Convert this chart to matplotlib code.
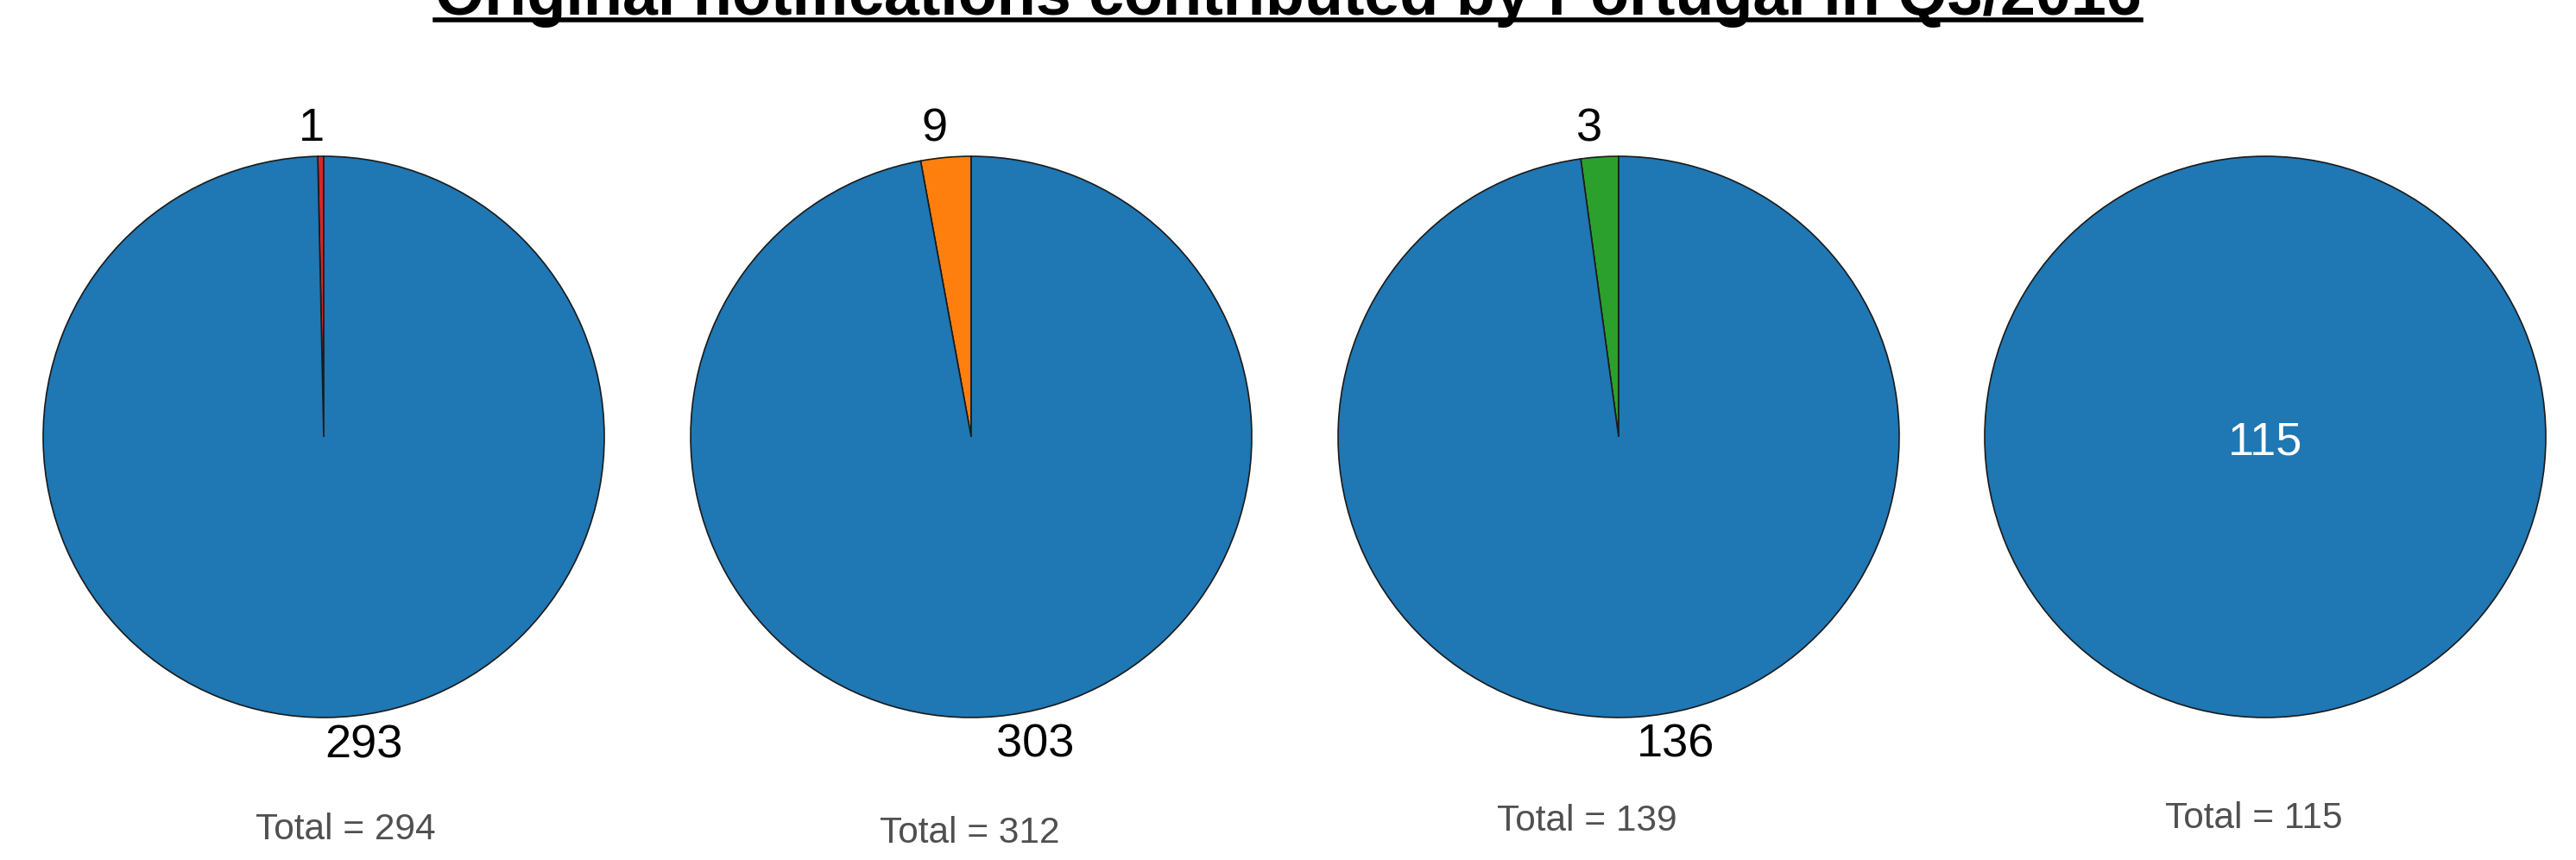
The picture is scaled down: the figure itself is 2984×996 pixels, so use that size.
import matplotlib
matplotlib.use("Agg")
import matplotlib.pyplot as plt
from matplotlib.lines import Line2D
import numpy as np

plt.rcParams['font.family'] = ['Liberation Sans', 'DejaVu Sans']

title = "Original notifications contributed by Portugal in Q3/2016"
small_values = [1, 9, 3, 0]
large_values = [293, 303, 136, 115]
small_colors = ['#d62728', '#ff7f0e', '#2ca02c', '#9467bd']
large_color = '#1f77b4'

W, H = 2984, 996
DPI = 100
fig = plt.figure(figsize=(W / DPI, H / DPI), dpi=DPI)
fig.patch.set_facecolor('white')

centers_x = [375, 1125, 1875, 2624]
center_y = 506
R = 325
total_pos_x = [400, 1123, 1838, 2611]
total_pos_y = [961, 965, 951, 948]

for i in range(4):
    cx = centers_x[i]
    ax = fig.add_axes([(cx - R) / W, (H - center_y - R) / H, 2 * R / W, 2 * R / H])
    s, l = small_values[i], large_values[i]
    if s > 0:
        vals = [s, l]
        cols = [small_colors[i], large_color]
    else:
        vals = [l]
        cols = [large_color]
    wedges, _ = ax.pie(vals, colors=cols, startangle=90, counterclock=True,
                       radius=1.0,
                       wedgeprops=dict(edgecolor='#1a1a1a', linewidth=1.2))
    ax.set_xlim(-1.0, 1.0)
    ax.set_ylim(-1.0, 1.0)
    ax.set_aspect('equal')
    total = sum(vals)
    if s > 0:
        start = 90.0
        for j, v in enumerate(vals):
            ang = start + 360.0 * v / total / 2
            start += 360.0 * v / total
            x = 1.1 * np.cos(np.radians(ang))
            y = 1.1 * np.sin(np.radians(ang))
            if j == 1:
                x += 0.13
            else:
                x -= 0.03
            ax.text(x, y, str(v), ha='center', va='center', fontsize=39,
                    color='black', clip_on=False)
    else:
        ax.text(0, -0.02, str(l), ha='center', va='center', fontsize=39,
                color='white')
    fig.text(total_pos_x[i] / W, 1 - total_pos_y[i] / H, f"Total = {total}",
             ha='center', va='center', fontsize=30.5, color='#505050')

# Title, sized to the reference width, partially clipped at top as in the reference
t = fig.text(0.5, 1 - 17 / H, title, ha='center', va='baseline',
             fontsize=47, fontweight='bold', color='black')
fig.canvas.draw()
bb = t.get_window_extent()
target = 2478 - 504
t.set_fontsize(47 * target / bb.width)
fig.canvas.draw()
bb = t.get_window_extent()
uy = 1 - 23 / H
fig.add_artist(Line2D([bb.x0 / W, bb.x1 / W], [uy, uy], color='black',
                      linewidth=4, transform=fig.transFigure))

fig.savefig('out.png', dpi=DPI, facecolor='white')
